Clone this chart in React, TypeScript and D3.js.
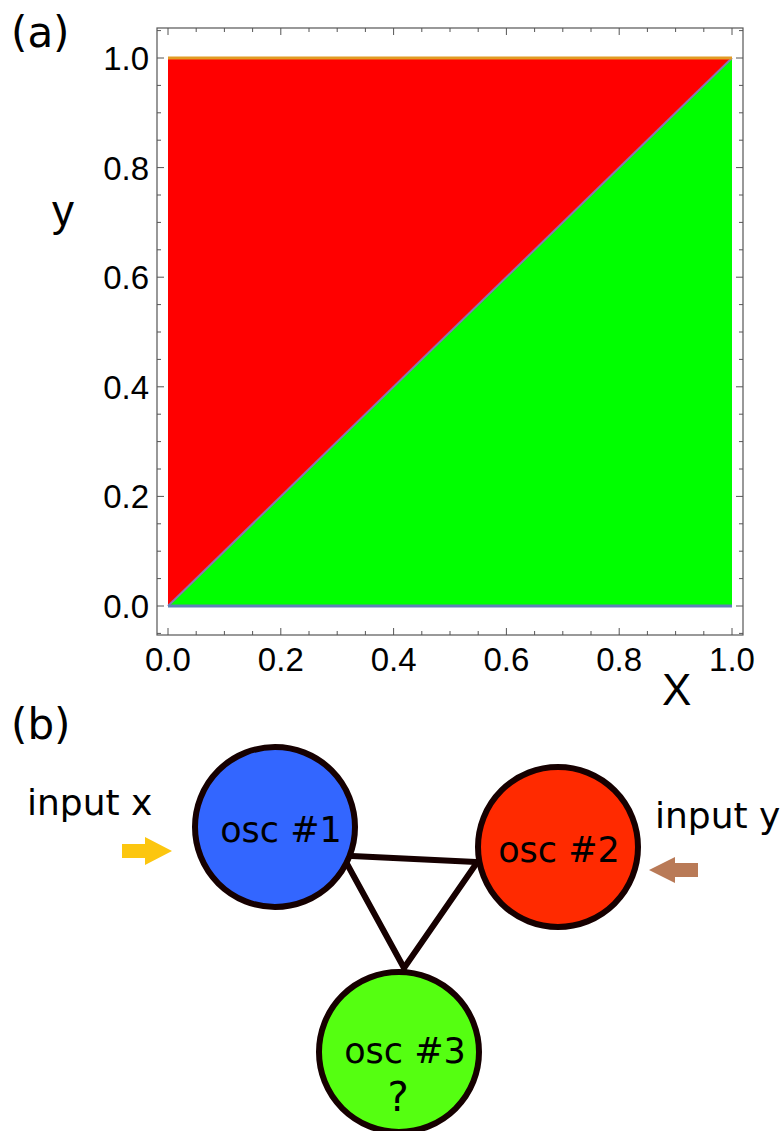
import React from "react";
import * as d3 from "d3";

// panel (a) data
const xMajor = [0, 0.2, 0.4, 0.6, 0.8, 1.0];
const yMajor = [0, 0.2, 0.4, 0.6, 0.8, 1.0];
const xMinor = [0, 0.05, 0.1, 0.15, 0.2, 0.25, 0.3, 0.35, 0.4, 0.45, 0.5, 0.55, 0.6, 0.65, 0.7, 0.75, 0.8, 0.85, 0.9, 0.95, 1.0];
const yMinor = [-0.05, 0, 0.05, 0.1, 0.15, 0.2, 0.25, 0.3, 0.35, 0.4, 0.45, 0.5, 0.55, 0.6, 0.65, 0.7, 0.75, 0.8, 0.85, 0.9, 0.95, 1.0, 1.05];
const redRegion = [[0, 0], [0, 1], [1, 1]];
const greenRegion = [[0, 0], [1, 1], [1, 0]];
const diagonal = [[0, 0], [1, 1]];
const topEdge = [[0, 1], [1, 1]];
const bottomEdge = [[0, 0], [1, 0]];

// panel (b) labels
const nodeLabels = ["osc #1", "osc #2", "osc #3"];
const nodeColors = ["#3366ff", "#ff2a00", "#55ff11"];
const inputLabels = ["input x", "input y"];

export default function App() {
  const left = 157, right = 743, top = 28, bottom = 635;
  const x = d3.scaleLinear().domain([0, 1]).range([168, 732]);
  const y = d3.scaleLinear().domain([0, 1]).range([606, 58]);
  const line = d3.line<number[]>().x(d => x(d[0])).y(d => y(d[1]));
  const poly = (pts: number[][]) => line(pts) + "Z";
  const fmt = d3.format(".1f");

  const isMajor = (v: number) => Math.abs(v * 5 - Math.round(v * 5)) < 1e-6;

  // diagram layout
  const nodes = [
    { cx: 275, cy: 827, tx: 281, ty: 842, label: nodeLabels[0], fill: nodeColors[0] },
    { cx: 558, cy: 847, tx: 559, ty: 862, label: nodeLabels[1], fill: nodeColors[1] },
    { cx: 399, cy: 1052, tx: 405, ty: 1063, label: nodeLabels[2], fill: nodeColors[2] },
  ];
  const r = 80;
  const edgeColor = "#160000";
  const dv = "'DejaVu Sans', sans-serif";

  return (
    <svg width={781} height={1131} style={{ position: "absolute", left: 0, top: 0, display: "block" }}
      fontFamily="'Liberation Sans', Arial, sans-serif">
      <rect width={781} height={1131} fill="#fff" />
      {/* panel (a) */}
      <text x={11} y={47} fontSize={42} fontFamily={dv}>(a)</text>
      <path d={poly(redRegion)} fill="#ff0000" />
      <path d={poly(greenRegion)} fill="#00ff00" />
      <path d={line(diagonal) || ""} stroke="#8778b3" strokeWidth={2} fill="none" />
      <path d={line(topEdge) || ""} stroke="#e19c24" strokeWidth={3} fill="none" />
      <path d={line(bottomEdge) || ""} stroke="#5e81b5" strokeWidth={3} fill="none" />
      <rect x={left} y={top} width={right - left} height={bottom - top} fill="none" stroke="#555" strokeWidth={1.2} />
      {xMinor.map((v, i) => {
        const len = isMajor(v) ? 7 : 4;
        return (
          <g key={"xt" + i} stroke="#555" strokeWidth={1}>
            <line x1={x(v)} x2={x(v)} y1={bottom} y2={bottom - len} />
            <line x1={x(v)} x2={x(v)} y1={top} y2={top + len} />
          </g>
        );
      })}
      {yMinor.map((v, i) => {
        const len = isMajor(v) ? 7 : 4;
        return (
          <g key={"yt" + i} stroke="#555" strokeWidth={1}>
            <line x1={left} x2={left + len} y1={y(v)} y2={y(v)} />
            <line x1={right} x2={right - len} y1={y(v)} y2={y(v)} />
          </g>
        );
      })}
      {xMajor.map((v, i) => (
        <text key={"xl" + i} x={x(v)} y={671} textAnchor="middle" fontSize={33}>{fmt(v)}</text>
      ))}
      {yMajor.map((v, i) => (
        <text key={"yl" + i} x={149} y={y(v) + 12} textAnchor="end" fontSize={33}>{fmt(v)}</text>
      ))}
      <text x={52} y={226} fontSize={44}>y</text>
      <text x={662} y={705} fontSize={44}>X</text>

      {/* panel (b) */}
      <text x={11} y={739} fontSize={42} fontFamily={dv}>(b)</text>
      <g stroke={edgeColor} strokeWidth={6} strokeLinecap="round">
        <line x1={352} y1={856} x2={476} y2={862} />
        <line x1={346} y1={862} x2={404} y2={968} />
        <line x1={476} y1={864} x2={404} y2={968} />
      </g>
      {nodes.map((n, i) => (
        <g key={"n" + i}>
          <circle cx={n.cx} cy={n.cy} r={r} fill={n.fill} stroke={edgeColor} strokeWidth={6} />
          <text x={n.tx} y={n.ty} textAnchor="middle" fontSize={35} fontFamily={dv}>{n.label}</text>
        </g>
      ))}
      <text x={398} y={1111} textAnchor="middle" fontSize={40} fontFamily={dv}>?</text>
      <text x={27} y={815} fontSize={36} fontFamily={dv}>{inputLabels[0]}</text>
      <text x={655} y={828} fontSize={36} fontFamily={dv}>{inputLabels[1]}</text>
      {/* input arrows */}
      <path d="M122,844 L145,844 L145,837 L172,851 L145,865 L145,858 L122,858 Z" fill="#fcc60f" />
      <path d="M698,863 L675,863 L675,857 L649,870 L675,883 L675,877 L698,877 Z" fill="#b97a57" />
    </svg>
  );
}
